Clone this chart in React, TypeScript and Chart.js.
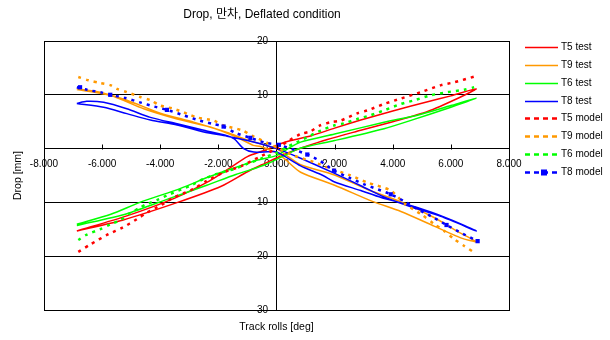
import React, { useEffect, useRef } from 'react';
import { Chart, registerables } from 'chart.js';

Chart.register(...registerables);

const chartTitle = 'Drop, 만차, Deflated condition';
const xAxisTitle = 'Track rolls [deg]';
const yAxisTitle = 'Drop [mm]';

const seriesNames = ['T5 test', 'T9 test', 'T6 test', 'T8 test', 'T5 model', 'T9 model', 'T6 model', 'T8 model'];
const seriesColors = ['#FF0000', '#FF9900', '#00FF00', '#0000FF', '#FF0000', '#FF9900', '#00FF00', '#0000FF'];

// [roll deg, drop mm]
const t5Test: number[][] = [
  [-6.87, -15.3], [-5.15, -12.5], [-3.5, -9.2], [-2.3, -6.0], [-1.6, -3.6], [-1.0, -1.5], [-0.4, -0.3],
  [0.14, 0.9], [0.5, 1.5], [1.2, 2.4], [2.0, 3.8], [2.9, 5.3], [4.0, 7.0], [5.2, 8.7], [6.0, 9.8], [6.87, 11.1],
  [6.3, 9.5], [5.2, 6.9], [4.0, 5.0], [2.9, 3.4], [1.75, 1.7], [0.9, 0.2], [0.3, -1.0], [-0.5, -3.0],
  [-1.0, -4.3], [-1.9, -7.0], [-3.4, -10.0], [-5.3, -13.3], [-6.87, -15.3],
];
const t9Test: number[][] = [
  [-6.87, 11.1], [-6.07, 10.5], [-5.15, 9.0], [-4.0, 6.6], [-2.85, 4.9], [-1.7, 3.0], [-1.0, 1.6], [-0.5, 0.8],
  [0, 0.0], [0.4, -1.5], [0.83, -3.0], [2.0, -4.9], [3.13, -7.6], [4.28, -9.9], [5.42, -12.8], [6.3, -15.6], [6.87, -17.3],
  [6.34, -16.6], [5.42, -14.4], [4.28, -11.7], [3.3, -9.8], [2.0, -6.8], [0.83, -4.4], [0.3, -2.0], [0, -0.8],
  [-0.55, 0.4], [-0.8, 0.6], [-1.36, 2.1], [-2.28, 4.0], [-3.42, 5.5], [-4.57, 7.4], [-5.72, 9.9], [-6.87, 11.0],
];
const t6Test: number[][] = [
  [-6.87, -14.05], [-5.7, -12.2], [-4.7, -10.0], [-3.3, -7.4], [-2.3, -5.2], [-1.4, -3.5], [-0.7, -2.2], [0, -1.3],
  [0.4, 0.0], [0.83, 1.2], [2.0, 2.7], [3.7, 4.9], [4.85, 6.2], [6.0, 8.0], [6.87, 9.35],
  [6.0, 7.7], [4.6, 5.2], [3.7, 3.7], [2.0, 1.5], [0.83, 0.1], [0.3, -1.2], [-0.3, -2.8], [-0.7, -3.6],
  [-1.4, -4.8], [-2.4, -6.8], [-3.7, -9.3], [-5.15, -12.1], [-6.87, -14.3],
];
const t8Test: number[][] = [
  [-6.87, 8.4], [-6.53, 8.8], [-5.95, 8.6], [-5.15, 7.4], [-4.34, 5.8], [-3.42, 4.6], [-2.5, 3.4], [-1.7, 2.4],
  [-1.45, 1.8], [-1.13, 0.0], [-0.78, -0.65], [-0.3, -0.6], [0.0, -0.6], [0.83, -3.2], [1.6, -5.0], [2.0, -6.2],
  [2.9, -7.8], [3.6, -9.1], [4.5, -10.4], [5.2, -11.6], [5.8, -12.8], [6.34, -14.0], [6.87, -15.3],
  [5.65, -12.6], [4.62, -10.8], [3.7, -9.0], [2.9, -6.9], [2.0, -4.6], [0.83, -1.8], [0.3, -0.6], [0.0, 0.0],
  [-0.55, 0.9], [-1.0, 1.5], [-1.7, 2.3], [-2.5, 3.1], [-3.42, 4.4], [-4.34, 5.3], [-5.15, 6.5], [-5.95, 7.7], [-6.87, 8.4],
];
const t5Model: number[][] = [
  [-6.82, -19.2], [-6.4, -17.8], [-5.78, -15.9], [-5.3, -14.7], [-4.8, -13.1], [-4.46, -11.9], [-4.0, -10.6],
  [-3.54, -9.1], [-2.85, -7.5], [-2.4, -6.0], [-1.8, -4.4], [-1.24, -3.3], [-0.6, -1.6], [0, 0.0], [0.4, 1.4],
  [0.83, 2.7], [1.17, 3.2], [1.5, 4.3], [1.86, 4.9], [2.2, 5.2], [2.8, 6.6], [3.13, 7.1], [3.7, 8.3], [4.28, 9.3],
  [4.97, 10.5], [5.66, 11.8], [6.1, 12.3], [6.82, 13.4],
];
const t9Model: number[][] = [
  [-6.82, 13.3], [-6.47, 12.7], [-6.07, 12.2], [-5.72, 11.8], [-5.49, 11.1], [-5.15, 10.5], [-4.69, 9.6],
  [-4.34, 9.0], [-4.0, 8.0], [-3.54, 7.4], [-3.08, 6.5], [-2.74, 5.8], [-2.16, 5.2], [-1.82, 4.3], [-1.18, 3.4],
  [-0.84, 2.4], [-0.3, 1.0], [0.1, 0.0], [0.6, -1.3], [1.29, -2.5], [1.75, -3.5], [2.55, -5.0], [3.13, -6.3],
  [3.93, -7.8], [4.4, -10.2], [5.0, -12.3], [5.42, -14.0], [5.77, -15.3], [6.11, -16.8], [6.46, -18.1], [6.8, -19.3],
];
const t6Model: number[][] = [
  [-6.82, -17.0], [-6.53, -16.0], [-6.07, -15.0], [-5.72, -14.1], [-5.38, -13.3], [-5.09, -12.2], [-4.69, -10.95],
  [-4.46, -10.3], [-4.11, -9.56], [-3.66, -8.45], [-2.97, -6.9], [-2.51, -5.65], [-2.05, -4.7], [-1.47, -3.8],
  [-1.01, -2.85], [-0.5, -1.8], [0, -0.8], [0.4, 0.4], [0.94, 1.8], [1.52, 3.36], [1.98, 4.3], [2.32, 4.7],
  [2.78, 5.5], [3.24, 6.2], [3.7, 7.1], [4.28, 8.3], [4.73, 8.96], [5.3, 9.9], [5.89, 10.5], [6.46, 10.95], [6.8, 11.4],
];
const t8Model: number[][] = [
  [-6.87, 11.4], [-6.5, 10.9], [-6.0, 10.4], [-5.72, 10.0], [-5.2, 9.4], [-4.7, 8.6], [-4.2, 7.8], [-3.77, 7.2],
  [-3.2, 6.2], [-2.7, 5.3], [-2.2, 4.6], [-1.82, 4.1], [-1.4, 2.9], [-0.9, 2.0], [-0.4, 1.1], [0.08, 0.7],
  [0.6, -0.2], [1.06, -1.1], [1.5, -2.3], [1.98, -4.1], [2.5, -5.4], [3.0, -6.6], [3.5, -7.6], [3.93, -8.5],
  [4.4, -9.8], [4.9, -11.4], [5.4, -12.8], [5.85, -14.2], [6.4, -15.8], [6.92, -17.2],
];
const t8ModelMarkers: number[][] = [
  [-6.76, 11.4], [-5.72, 10.0], [-3.77, 7.2], [-1.82, 4.1], [-0.9, 2.0], [0.08, 0.7], [1.06, -1.1],
  [1.98, -4.1], [3.93, -8.5], [5.85, -14.2], [6.92, -17.2],
];

const seriesData = [t5Test, t9Test, t6Test, t8Test, t5Model, t9Model, t6Model, t8Model];

const X_MIN = -8, X_MAX = 8, X_STEP = 2;
const Y_MIN = -30, Y_MAX = 20, Y_STEP = 10;

const FONT = '"Liberation Sans", Arial, "Noto Sans CJK KR", sans-serif';

const toPoints = (arr: number[][]) => arr.map(([x, y]) => ({ x, y }));

const decorPlugin = {
  id: 'decor',
  afterDraw(chart: any) {
    const { ctx, chartArea: a, scales } = chart;
    ctx.save();
    // plot box
    ctx.strokeStyle = '#000';
    ctx.lineWidth = 1;
    ctx.setLineDash([]);
    ctx.strokeRect(Math.round(a.left) + 0.5, Math.round(a.top) + 0.5, Math.round(a.right - a.left), Math.round(a.bottom - a.top));
    // x tick marks (upward from the axis)
    const y0 = Math.round(scales.y.getPixelForValue(0)) + 0.5;
    ctx.beginPath();
    for (let v = X_MIN; v <= X_MAX; v += X_STEP) {
      const px = Math.round(scales.x.getPixelForValue(v)) + 0.5;
      ctx.moveTo(px, y0 - 5);
      ctx.lineTo(px, y0);
    }
    ctx.stroke();
    // titles
    ctx.fillStyle = '#000';
    ctx.textAlign = 'center';
    ctx.textBaseline = 'middle';
    ctx.font = `12px ${FONT}`;
    ctx.fillText(chartTitle, 262, 15);
    ctx.font = `10.5px ${FONT}`;
    ctx.fillText(xAxisTitle, (a.left + a.right) / 2, 327);
    ctx.save();
    ctx.translate(18, (a.top + a.bottom) / 2);
    ctx.rotate(-Math.PI / 2);
    ctx.fillText(yAxisTitle, 0, 0);
    ctx.restore();
    // legend
    ctx.font = `10px ${FONT}`;
    ctx.textAlign = 'left';
    const lx0 = 525, lx1 = 558, tx = 561, ly0 = 47, lstep = 17.85;
    chart.data.datasets.forEach((ds: any) => {
      if (!ds.inLegend) return;
      const yy = Math.round(ly0 + ds.legendIndex * lstep) + 0.5;
      ctx.strokeStyle = ds.borderColor;
      ctx.lineWidth = ds.legendWidth;
      ctx.setLineDash(ds.legendDash);
      ctx.beginPath();
      ctx.moveTo(lx0, yy);
      ctx.lineTo(lx1, yy);
      ctx.stroke();
      ctx.setLineDash([]);
      if (ds.legendMarker) {
        ctx.fillStyle = ds.borderColor;
        ctx.fillRect(541, yy - 3, 6, 6);
      }
      ctx.fillStyle = '#000';
      ctx.fillText(ds.label, tx, yy);
    });
    ctx.restore();
  },
};

export default function App() {
  const ref = useRef<HTMLCanvasElement>(null);
  useEffect(() => {
    if (!ref.current) return;
    const n = seriesNames.length;
    const datasets: any[] = seriesNames.map((name, i) => {
      const isModel = i >= 4;
      return {
        label: name,
        data: toPoints(seriesData[i]),
        showLine: true,
        borderColor: seriesColors[i],
        backgroundColor: seriesColors[i],
        borderWidth: isModel ? 2.5 : 1.5,
        borderDash: isModel ? [3, 5] : [],
        pointRadius: 0,
        tension: 0.25,
        order: n - i + 1,
        inLegend: true,
        legendIndex: i,
        legendWidth: isModel ? 2.5 : 1.5,
        legendDash: isModel ? [5, 4] : [],
        legendMarker: i === 7,
      };
    });
    datasets.push({
      label: 'T8 model markers',
      data: toPoints(t8ModelMarkers),
      showLine: false,
      pointStyle: 'rect',
      pointRadius: 3,
      borderWidth: 0,
      backgroundColor: seriesColors[7],
      borderColor: seriesColors[7],
      order: 0,
      inLegend: false,
    });

    const chart = new Chart(ref.current, {
      type: 'scatter',
      data: { datasets },
      options: {
        responsive: false,
        animation: false,
        layout: { padding: { left: 44, right: 101, top: 41, bottom: 30 } },
        plugins: { legend: { display: false }, tooltip: { enabled: false }, title: { display: false } },
        scales: {
          x: {
            type: 'linear',
            min: X_MIN,
            max: X_MAX,
            position: { y: 0 } as any,
            grid: { display: false, drawTicks: false },
            border: { display: true, color: '#000', width: 1 },
            ticks: {
              stepSize: X_STEP,
              autoSkip: false,
              maxRotation: 0,
              padding: 10,
              color: '#000',
              font: { family: FONT, size: 10 },
              callback: (v: any) => Number(v).toFixed(3),
            },
          },
          y: {
            type: 'linear',
            min: Y_MIN,
            max: Y_MAX,
            position: { x: 0 } as any,
            grid: { display: true, color: '#000', lineWidth: 1, drawTicks: false },
            border: { display: true, color: '#000', width: 1 },
            ticks: {
              stepSize: Y_STEP,
              autoSkip: false,
              padding: 8,
              color: '#000',
              font: { family: FONT, size: 10 },
              // trailing spaces keep the right-aligned label clear of the centred axis
              callback: (v: any) => String(Math.round(Number(v))) + '   ',
            },
          },
        },
      },
      plugins: [decorPlugin],
    });
    return () => chart.destroy();
  }, []);
  return (
    <div style={{ position: 'absolute', left: 0, top: 0, width: 610, height: 340, background: '#fff' }}>
      <canvas ref={ref} width={610} height={340} />
    </div>
  );
}
